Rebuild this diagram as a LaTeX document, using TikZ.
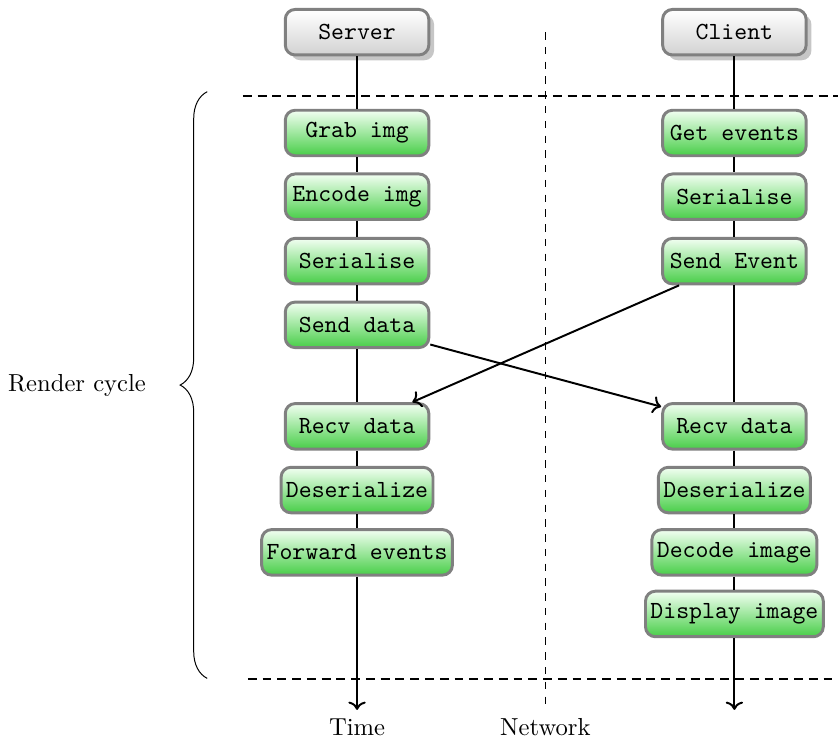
\documentclass[tikz,border=0pt]{standalone}
\usepackage{tikz}
\usetikzlibrary{positioning,arrows.meta,shadows,decorations.pathreplacing}
\usepackage{xcolor}
\definecolor{taskgreen}{RGB}{72,206,72}

\begin{document}
\begin{tikzpicture}[
  task/.style={rectangle, draw=gray, very thick, rounded corners=4pt, minimum width=2.05cm, minimum height=0.65cm, inner xsep=2pt, font=\ttfamily, top color=green!5, bottom color=taskgreen},
  host/.style={task, top color=white, bottom color=gray!35, drop shadow={fill=gray!45, opacity=1}},
  arrow/.style={->, thick},
  sep/.style={thick, dash pattern=on 3.6pt off 2.4pt}
]
\useasboundingbox (0,0) rectangle (11.97,-10.6);

\node[host] (server) at (5.1,-0.46) {Server};
\node[host] (client) at (10.49,-0.46) {Client};

\node[task] (grab) at (5.1,-1.9) {Grab img};
\node[task] (encode) at (5.1,-2.81) {Encode img};
\node[task] (sser) at (5.1,-3.73) {Serialise};
\node[task] (ssend) at (5.1,-4.64) {Send data};
\node[task] (srecv) at (5.1,-6.09) {Recv data};
\node[task] (sdeser) at (5.1,-7.0) {Deserialize};
\node[task] (fwd) at (5.1,-7.89) {Forward events};

\node[task] (getev) at (10.49,-1.9) {Get events};
\node[task] (cser) at (10.49,-2.81) {Serialise};
\node[task] (csend) at (10.49,-3.73) {Send Event};
\node[task] (crecv) at (10.49,-6.09) {Recv data};
\node[task] (cdeser) at (10.49,-7.0) {Deserialize};
\node[task] (decode) at (10.49,-7.89) {Decode image};
\node[task] (display) at (10.49,-8.77) {Display image};

\coordinate (stime) at (5.1,-10.14);
\coordinate (ctime) at (10.49,-10.14);
\coordinate (nettop) at (7.79,-0.46);
\coordinate (netbot) at (7.79,-10.14);
\coordinate (topl) at (3.47,-1.37);
\coordinate (topr) at (11.97,-1.37);
\coordinate (botl) at (3.54,-9.7);
\coordinate (botr) at (11.97,-9.7);
\coordinate (bracetop) at (2.96,-1.31);
\coordinate (bracebot) at (2.96,-9.69);

\draw[arrow] (server) -- (grab) -- (encode) -- (sser) -- (ssend) -- (srecv) -- (sdeser) -- (fwd) -- (stime) node[below] {Time};
\draw[arrow] (client) -- (getev) -- (cser) -- (csend) -- (crecv) -- (cdeser) -- (decode) -- (display) -- (ctime);
\draw[dashed] (nettop) -- (netbot) node[below] {Network};

\draw[sep] (topl) -- (topr);
\draw[sep] (botl) -- (botr);

\draw[decorate, decoration={brace, amplitude=11pt}] (bracebot) -- (bracetop);
\node (cycle) at (1.1,-5.5) {Render cycle};

\draw[arrow] (csend) -- (srecv);
\draw[arrow] (ssend) -- (crecv);
\end{tikzpicture}
\end{document}
